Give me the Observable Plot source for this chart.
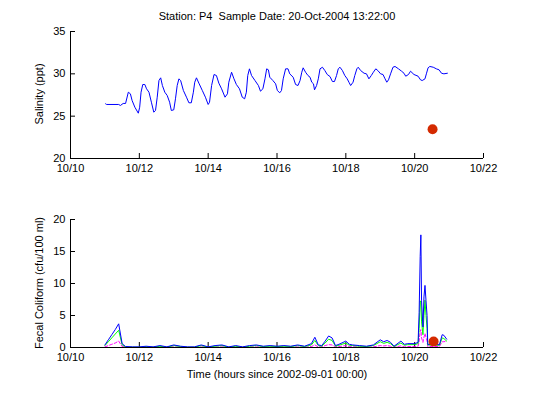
<!DOCTYPE html>
<html>
<head>
<meta charset="utf-8">
<script src="https://cdn.jsdelivr.net/npm/d3@7"></script>
<script src="https://cdn.jsdelivr.net/npm/@observablehq/plot@0.6"></script>
<style>
  html, body { margin: 0; padding: 0; background: white; }
  #wrap { position: relative; width: 533px; height: 399px; overflow: hidden; font-family: "Liberation Sans", Arial, sans-serif; font-size: 11px; color: black; }
  .lbl { position: absolute; white-space: pre; line-height: 1; }
  .rot { transform: translate(-50%, -50%) rotate(-90deg); }
  .ctr { transform: translate(-50%, -50%); }
</style>
</head>
<body>
<div id="wrap">
  <div id="topPanel"></div>
  <div id="bottomPanel"></div>
  <div class="lbl ctr" id="title" style="left:277px; top:16px;"></div>
  <div class="lbl rot" id="ylab1" style="left:39px; top:94px;"></div>
  <div class="lbl rot" id="ylab2" style="left:39px; top:283px;"></div>
  <div class="lbl ctr" id="xlab" style="left:277px; top:374px;"></div>
</div>
<script>
const titleText = "Station: P4  Sample Date: 20-Oct-2004 13:22:00";
const salinityLabel = "Salinity (ppt)";
const coliformLabel = "Fecal Coliform (cfu/100 ml)";
const timeLabel = "Time (hours since 2002-09-01 00:00)";

const xTicks = [10, 12, 14, 16, 18, 20, 22];
const xTickLabels = ["10/10", "10/12", "10/14", "10/16", "10/18", "10/20", "10/22"];
const salTicks = [20, 25, 30, 35];
const fcTicks = [0, 5, 10, 15, 20];

// salinity: [day of October, ppt]
const salinity = [
  [11.02,26.46],[11.05,26.38],[11.40,26.38],[11.45,26.26],[11.53,26.5],[11.60,26.5],[11.68,27.83],[11.74,27.64],[11.79,26.85],[11.87,26.06],
  [11.97,25.35],[12.01,26.06],[12.05,27.83],[12.10,28.74],[12.16,28.74],[12.21,28.23],[12.28,27.83],[12.35,26.65],[12.42,25.47],[12.47,25.67],
  [12.52,27.24],[12.57,29.21],[12.62,29.53],[12.67,28.62],[12.74,27.83],[12.81,27.44],[12.88,26.65],[12.93,25.67],[13.00,25.75],[13.05,27.05],
  [13.10,28.62],[13.15,29.41],[13.20,29.21],[13.28,28.03],[13.37,27.24],[13.44,26.58],[13.51,26.58],[13.57,27.83],[13.61,29.01],[13.66,29.53],
  [13.73,28.9],[13.83,28.03],[13.92,27.24],[14.00,26.38],[14.04,26.65],[14.10,28.62],[14.17,29.92],[14.24,29.80],[14.31,28.9],[14.39,28.23],
  [14.49,27.24],[14.56,27.64],[14.60,29.01],[14.68,30.19],[14.75,29.41],[14.82,28.74],[14.91,28.23],[14.99,27.24],[15.06,27.05],[15.11,27.83],
  [15.15,29.80],[15.20,30.59],[15.26,29.80],[15.36,29.21],[15.46,28.62],[15.52,27.95],[15.59,28.23],[15.65,29.41],[15.70,30.59],[15.75,30.47],
  [15.79,29.6],[15.88,29.21],[15.96,28.82],[16.01,28.03],[16.08,27.76],[16.13,28.03],[16.18,29.41],[16.25,30.59],[16.32,30.59],[16.37,30.0],
  [16.47,29.6],[16.54,28.74],[16.61,28.62],[16.67,29.21],[16.72,30.19],[16.76,30.71],[16.83,30.19],[16.90,29.8],[16.96,29.6],[17.01,29.01],
  [17.06,28.82],[17.09,28.11],[17.15,28.62],[17.20,29.41],[17.25,30.59],[17.32,30.78],[17.39,30.39],[17.46,29.92],[17.54,29.68],[17.61,29.09],
  [17.67,29.09],[17.73,29.8],[17.78,30.59],[17.83,30.78],[17.90,30.39],[17.97,29.8],[18.04,29.41],[18.09,29.01],[18.14,28.62],[18.21,29.01],
  [18.26,29.8],[18.32,30.59],[18.36,30.78],[18.43,30.39],[18.53,30.07],[18.60,30.0],[18.67,29.41],[18.74,29.8],[18.80,30.19],[18.87,30.59],
  [18.93,30.39],[19.01,30.0],[19.08,29.92],[19.14,29.41],[19.19,29.01],[19.24,29.29],[19.30,30.0],[19.37,30.78],[19.43,30.87],[19.53,30.59],
  [19.62,30.31],[19.69,30.07],[19.74,29.72],[19.82,29.92],[19.88,30.31],[19.98,29.92],[20.10,29.72],[20.17,29.29],[20.22,29.21],[20.30,29.41],
  [20.34,30.0],[20.39,30.71],[20.44,30.87],[20.54,30.78],[20.63,30.59],[20.71,30.47],[20.78,30.07],[20.85,30.0],[20.95,30.07]
];
const salSample = [[20.52, 23.45]];

// fecal coliform: shared days and three series
const fcDay = [
  11.0, 11.1, 11.2, 11.3, 11.4, 11.5, 11.6, 11.8, 12.0, 12.2,
  12.4, 12.6, 12.8, 13.0, 13.2, 13.4, 13.6, 13.8, 14.0, 14.2,
  14.4, 14.6, 14.8, 15.0, 15.2, 15.4, 15.6, 15.8, 16.0, 16.2,
  16.4, 16.6, 16.8, 17.0, 17.1, 17.2, 17.3, 17.4, 17.5, 17.6,
  17.7, 17.8, 18.0, 18.1, 18.2, 18.4, 18.6, 18.8, 19.0, 19.1,
  19.2, 19.3, 19.4, 19.6, 19.7, 19.8, 20.0, 20.1, 20.13, 20.16,
  20.18, 20.2, 20.24, 20.27, 20.3, 20.33, 20.36, 20.38, 20.5, 20.72,
  20.8, 20.85, 20.93
];
const fcBlue = [
  0.4, 1.2, 2.0, 2.8, 3.7, 0.6, 0.15, 0.1, 0.1, 0.2,
  0.1, 0.3, 0.1, 0.4, 0.2, 0.1, 0.1, 0.4, 0.1, 0.3,
  0.4, 0.1, 0.3, 0.1, 0.3, 0.4, 0.2, 0.3, 0.2, 0.3,
  0.2, 0.4, 0.2, 0.6, 1.6, 0.4, 0.3, 1.0, 1.8, 1.5,
  0.3, 0.5, 1.0, 0.5, 0.4, 0.3, 0.2, 0.4, 1.2, 0.9,
  1.1, 0.8, 0.2, 1.0, 0.5, 0.6, 0.6, 0.8, 5.5, 14.2,
  17.6, 7.3, 3.2, 7.9, 9.7, 7.3, 5.0, 0.5, 0.45, 0.45,
  2.0, 1.9, 1.3
];
const fcGreen = [
  0.3, 0.9, 1.5, 2.1, 2.7, 0.4, 0.1, 0.05, 0.05, 0.15,
  0.05, 0.2, 0.05, 0.3, 0.15, 0.05, 0.05, 0.3, 0.05, 0.2,
  0.3, 0.05, 0.2, 0.05, 0.2, 0.3, 0.15, 0.2, 0.15, 0.2,
  0.15, 0.3, 0.15, 0.4, 1.1, 0.3, 0.2, 0.7, 1.3, 1.1,
  0.2, 0.35, 0.7, 0.35, 0.3, 0.2, 0.15, 0.3, 0.9, 0.65,
  0.8, 0.6, 0.15, 0.7, 0.35, 0.45, 0.45, 0.6, 3.0, 7.3,
  7.0, 4.0, 2.0, 5.0, 7.4, 5.0, 3.0, 0.4, 0.35, 0.35,
  1.5, 1.4, 1.0
];
const fcMagenta = [
  0.1, 0.3, 0.5, 0.7, 1.0, 0.15, 0.05, 0.02, 0.02, 0.05,
  0.02, 0.1, 0.02, 0.1, 0.05, 0.02, 0.02, 0.1, 0.02, 0.1,
  0.1, 0.02, 0.1, 0.02, 0.1, 0.1, 0.05, 0.1, 0.05, 0.1,
  0.05, 0.1, 0.05, 0.15, 0.4, 0.1, 0.1, 0.3, 0.45, 0.4,
  0.1, 0.15, 0.3, 0.15, 0.1, 0.1, 0.05, 0.1, 0.3, 0.25,
  0.3, 0.2, 0.05, 0.25, 0.1, 0.15, 0.15, 0.2, 1.0, 2.5,
  2.8, 1.5, 0.8, 1.6, 2.2, 1.6, 1.0, 0.15, 0.15, 0.15,
  0.9, 0.9, 1.0
];
const fcSample = [[20.55, 0.95]];

const fcTable = fcDay.map((d, i) => ({day: d, blue: fcBlue[i], green: fcGreen[i], magenta: fcMagenta[i]}));
const tickFmt = d => xTickLabels[xTicks.indexOf(+d)];

const W = 533, ML = 70, MR = 50;
const plotW = W - ML - MR;
const baseStyle = {fontFamily: '"Liberation Sans", Arial, sans-serif', fontSize: "11px", color: "black", background: "white", overflow: "visible"};

function panel({height, marginTop, marginBottom, yDomain, yTicks, lines, sample}) {
  const plotH = height - marginTop - marginBottom;
  return Plot.plot({
    width: W, height, marginLeft: ML, marginRight: MR, marginTop, marginBottom,
    style: baseStyle,
    x: {domain: [xTicks[0], xTicks[xTicks.length - 1]]},
    y: {domain: yDomain},
    marks: [
      Plot.axisX(xTicks, {tickSize: 0, tickPadding: 6, label: null, fontSize: 11, tickFormat: tickFmt}),
      Plot.axisY(yTicks, {tickSize: 0, tickPadding: 5, label: null, fontSize: 11}),
      Plot.tickX(xTicks, {x: d => d, insetTop: plotH - 5, stroke: "black", strokeWidth: 1}),
      Plot.tickY(yTicks, {y: d => d, insetRight: plotW - 5, stroke: "black", strokeWidth: 1}),
      ...lines,
      Plot.dot(sample, {x: d => d[0], y: d => d[1], r: 5, fill: "#d42a00", stroke: "none"}),
      Plot.ruleY([yDomain[0]], {stroke: "black", strokeWidth: 1}),
      Plot.ruleX([xTicks[0]], {stroke: "black", strokeWidth: 1})
    ]
  });
}

const topChart = panel({
  height: 190, marginTop: 31, marginBottom: 32,
  yDomain: [salTicks[0], salTicks[salTicks.length - 1]], yTicks: salTicks,
  lines: [Plot.line(salinity, {x: d => d[0], y: d => d[1], stroke: "#0000ff", strokeWidth: 1})],
  sample: salSample
});
const bottomChart = panel({
  height: 209, marginTop: 29, marginBottom: 52,
  yDomain: [fcTicks[0], fcTicks[fcTicks.length - 1]], yTicks: fcTicks,
  lines: [
    Plot.line(fcTable, {x: "day", y: "magenta", stroke: "#ff00ff", strokeWidth: 1, strokeDasharray: "3,2"}),
    Plot.line(fcTable, {x: "day", y: "green", stroke: "#00ff00", strokeWidth: 1}),
    Plot.line(fcTable, {x: "day", y: "blue", stroke: "#0000ff", strokeWidth: 1})
  ],
  sample: fcSample
});
document.getElementById("topPanel").appendChild(topChart);
document.getElementById("bottomPanel").appendChild(bottomChart);
document.getElementById("title").textContent = titleText;
document.getElementById("ylab1").textContent = salinityLabel;
document.getElementById("ylab2").textContent = coliformLabel;
document.getElementById("xlab").textContent = timeLabel;
</script>
</body>
</html>
